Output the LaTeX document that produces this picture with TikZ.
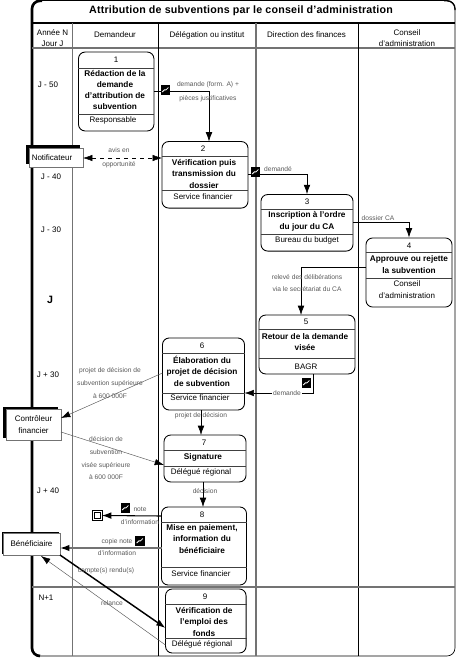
\documentclass[tikz,border=0pt]{standalone}
\usepackage{fontspec}
\setmainfont{Liberation Sans}
\usetikzlibrary{arrows.meta,shadows}
\definecolor{labelgrey}{gray}{0.35}
\definecolor{rulegrey}{gray}{0.45}

\begin{document}
\begin{tikzpicture}[x=0.75pt,y=-0.75pt]
\tikzset{stepbox/.style = {shape=rectangle,draw,rounded corners=5pt,line width=0.65pt,inner sep=0pt}}
\tikzset{steptext/.style = {align=center,inner sep=0pt,font=\fontsize{6.2}{8.6}\selectfont\bfseries}}
\tikzset{plaintext/.style = {align=center,inner sep=0pt,font=\fontsize{6}{8.3}\selectfont}}
\tikzset{headtext/.style = {align=center,inner sep=0pt,font=\fontsize{6}{8}\selectfont}}
\tikzset{flowtext/.style = {align=center,inner sep=0pt,text=labelgrey,font=\fontsize{5}{9.5}\selectfont}}
\tikzset{actor/.style = {shape=rectangle,draw=rulegrey,line width=0.4pt,fill=white,inner sep=0pt,align=center,font=\fontsize{6}{8.6}\selectfont}}
\tikzset{divider/.style = {line width=0.6pt,black!75}}
\tikzset{edge/.style = {->,> = {Latex[length=7pt,width=5pt]},line width=0.5pt}}
\tikzset{thinedge/.style = {->,> = {Latex[length=7pt,width=4.8pt,color=black]},line width=0.35pt,black!65}}
\tikzset{msgicon/.style = {shape=rectangle,fill=black,minimum size=7pt,inner sep=0pt,
		path picture={\draw[white,line width=0.6pt] ([shift={(-2.5pt,-1.5pt)}]path picture bounding box.center) -- ++(1.7pt,1.6pt) -- ++(1.2pt,0pt) -- ++(1.8pt,1.8pt);}}}
\useasboundingbox (0,0) rectangle (468,668);

% frame and columns
\draw[line width=0.5pt,rounded corners=6pt] (32,656) -- (32,0.5) -- (455,0.5) -- (455,656) -- cycle;
\draw[line width=2pt,rounded corners=6pt] (40,656) -- (32,656) -- (32,0.8) -- (42,0.8);
\draw[line width=1pt,rounded corners=6pt] (444,0.8) -- (455,0.8) -- (455,10);
\draw[line width=1.6pt] (32,23) -- (455,23);
\draw[line width=0.8pt,rulegrey] (32,48) -- (455,48);
\draw[line width=0.6pt,rulegrey] (72.5,23) -- (72.5,656);
\draw[line width=0.6pt] (158,23) -- (158,656);
\draw[line width=1pt,rulegrey] (256,23) -- (256,656);
\draw[line width=0.6pt] (358.5,23) -- (358.5,656);
\draw[line width=0.9pt,rulegrey] (32,587) -- (455,587);

% headers
\node[inner sep=0pt,font=\fontsize{8}{9}\selectfont\bfseries] (title) at (241,11) {\addfontfeature{LetterSpace=2}Attribution de subventions par le conseil d'administration};
\node[headtext] (year) at (52.5,38) {Année N\\Jour J};
\node[headtext] (hdem) at (115,35) {Demandeur};
\node[headtext] (hdel) at (207,35) {Délégation ou institut};
\node[headtext] (hdir) at (306.5,35) {Direction des finances};
\node[headtext] (hcon) at (407,38) {Conseil\\d'administration};

% dates
\node[headtext] (t1) at (48,85) {J - 50};
\node[headtext] (t2) at (51,177) {J - 40};
\node[headtext] (t3) at (51,230) {J - 30};
\node[inner sep=0pt,font=\fontsize{8}{9}\selectfont\bfseries] (t4) at (50,300) {J};
\node[headtext] (t5) at (48,375) {J + 30};
\node[headtext] (t6) at (48,491) {J + 40};
\node[headtext] (t7) at (46,598) {N+1};

% steps
\node[stepbox,minimum width=56.6pt,minimum height=59.2pt] (a) at (116.2,91.5) {};
\node[stepbox,minimum width=64.5pt,minimum height=49.9pt] (b) at (205,174.8) {};
\node[stepbox,minimum width=69pt,minimum height=42.4pt] (c) at (307,222.8) {};
\node[stepbox,minimum width=64.5pt,minimum height=51.8pt] (d) at (409,272.5) {};
\node[stepbox,minimum width=72pt,minimum height=44.2pt] (e) at (307,344.5) {};
\node[stepbox,minimum width=61.5pt,minimum height=54pt] (f) at (203.5,374) {};
\node[stepbox,minimum width=61.5pt,minimum height=35.2pt] (g) at (205,458.5) {};
\node[stepbox,minimum width=63.8pt,minimum height=58.5pt] (h) at (204,546) {};
\node[stepbox,minimum width=60.4pt,minimum height=48pt] (i) at (205.8,621) {};

% step dividers
\draw[divider] (a.west |- 0,68) -- (a.east |- 0,68);
\draw[divider] (a.west |- 0,114) -- (a.east |- 0,114);
\draw[divider] (b.west |- 0,156) -- (b.east |- 0,156);
\draw[divider] (b.west |- 0,190) -- (b.east |- 0,190);
\draw[divider] (c.west |- 0,209) -- (c.east |- 0,209);
\draw[divider] (c.west |- 0,234) -- (c.east |- 0,234);
\draw[divider] (d.west |- 0,252) -- (d.east |- 0,252);
\draw[divider] (d.west |- 0,278) -- (d.east |- 0,278);
\draw[divider] (e.west |- 0,329) -- (e.east |- 0,329);
\draw[divider] (e.west |- 0,358) -- (e.east |- 0,358);
\draw[divider] (f.west |- 0,353) -- (f.east |- 0,353);
\draw[divider] (f.west |- 0,393) -- (f.east |- 0,393);
\draw[divider] (g.west |- 0,450) -- (g.east |- 0,450);
\draw[divider] (g.west |- 0,466) -- (g.east |- 0,466);
\draw[divider] (h.west |- 0,522) -- (h.east |- 0,522);
\draw[divider] (h.west |- 0,567) -- (h.east |- 0,567);
\draw[divider] (i.west |- 0,604) -- (i.east |- 0,604);
\draw[divider] (i.west |- 0,638) -- (i.east |- 0,638);

% step texts
\node[plaintext] (a0) at (116,60) {1};
\node[steptext,font=\fontsize{6.2}{8.1}\selectfont\bfseries] (a1) at (115,90) {Rédaction de la\\demande\\d'attribution de\\subvention};
\node[plaintext] (a2) at (113,120) {Responsable};
\node[plaintext] (b0) at (203,149) {2};
\node[steptext] (b1) at (204,174) {Vérification puis\\transmission du\\dossier};
\node[plaintext] (b2) at (203,197) {Service financier};
\node[plaintext] (c0) at (307,202) {3};
\node[steptext] (c1) at (307,221.5) {Inscription à l'ordre\\du jour du CA};
\node[plaintext] (c2) at (307,240) {Bureau du budget};
\node[plaintext] (d0) at (409,246) {4};
\node[steptext] (d1) at (409,264.5) {Approuve ou rejette\\la subvention};
\node[plaintext] (d2) at (407,289.5) {Conseil\\[1.2pt]d'administration};
\node[plaintext] (e0) at (306,322) {5};
\node[steptext] (e1) at (305,342) {Retour de la demande\\visée};
\node[plaintext] (e2) at (306,367) {BAGR};
\node[plaintext] (f0) at (202,346) {6};
\node[steptext] (f1) at (202,371) {Élaboration du\\projet de décision\\de subvention};
\node[plaintext] (f2) at (200,398) {Service financier};
\node[plaintext] (g0) at (204,443) {7};
\node[steptext] (g1) at (203,457.5) {Signature};
\node[plaintext] (g2) at (201,472) {Délégué régional};
\node[plaintext] (h0) at (202,515) {8};
\node[steptext] (h1) at (202,539) {Mise en paiement,\\information du\\bénéficiaire};
\node[plaintext] (h2) at (201,574) {Service financier};
\node[plaintext] (i0) at (205,597) {9};
\node[steptext] (i1) at (204,622) {Vérification de\\l'emploi des\\fonds};
\node[plaintext] (i2) at (202,644) {Délégué régional};

% actors
\node[actor,minimum width=40.5pt,minimum height=14.2pt,general shadow={fill=black,shadow xshift=-2pt,shadow yshift=2pt}] (notif) at (56,157.5) {Notificateur\hspace{6pt}};
\node[actor,minimum width=41.2pt,minimum height=23.2pt,general shadow={fill=black,shadow xshift=-2.2pt,shadow yshift=1.6pt}] (ctrl) at (33.5,424.5) {Contrôleur\hspace{3pt}\\financier\hspace{3pt}};
\node[actor,minimum width=42.8pt,minimum height=16.5pt,general shadow={fill=black,shadow xshift=-1pt,shadow yshift=0.7pt}] (benef) at (31.5,544) {Bénéficiaire};

% free ends of the connectors
\coordinate (bin) at (209,141.5);
\coordinate (eout) at (366,267);
\coordinate (ein) at (301,315);
\coordinate (eleft) at (313,374);
\coordinate (fin) at (244.5,393);
\coordinate (fout) at (162.5,373);
\coordinate (ctrlin) at (61,418);
\coordinate (ctrlout) at (61,432);
\coordinate (gin) at (164,465);
\coordinate (fbot) at (201,410);
\coordinate (gtop) at (201,435);
\coordinate (gbot) at (203,482);
\coordinate (htop) at (203,507);
\coordinate (hout) at (161.5,516);
\coordinate (hcopy) at (161.5,548);
\coordinate (benefin) at (60,548);
\coordinate (benefout) at (60,555);
\coordinate (iin) at (165.5,628);
\coordinate (iout) at (165.5,645);
\coordinate (benefback) at (41,556);
\coordinate (notifr) at (83,158);
\coordinate (bleft) at (162,158);

% edges
\draw[edge] (a.east) -| (bin);
\draw[thinedge,<->,dashed,black] (notifr) to (bleft);
\draw[edge] (b.east) -| (c.north);
\draw[edge] (c.east) -| (d.north);
\draw[edge] (eout) -| (ein);
\draw[thinedge,black] (eleft) |- (fin);
\draw[thinedge] (fout) to (ctrlin);
\draw[edge] (fbot) to (gtop);
\draw[thinedge] (ctrlout) to (gin);
\draw[edge] (gbot) to (htop);
\draw[thinedge,rulegrey,line width=1pt] (hcopy) to (benefin);
\draw[edge,line width=1.1pt] (benefout) to (iin);
\draw[thinedge] (iout) to (benefback);

% white icon end
\node[shape=rectangle,draw,double,double distance=1pt,line width=0.7pt,minimum size=6pt,inner sep=0pt] (inote) at (97.5,515.5) {};
\draw[edge,line width=0.8pt] (hout) to (inote.east);

% message icons
\node[msgicon] (m1) at (165.5,90) {};
\node[msgicon] (m2) at (255.5,172) {};
\node[msgicon] (m3) at (306.5,383) {};
\node[msgicon] (m4) at (125.5,508) {};
\node[msgicon] (m5) at (140,541) {};

% connector labels
\node[flowtext] (l1) at (208,92) {demande (form. A) +\\[1pt]pièces justificatives};
\node[flowtext] (l2) at (119,158) {avis en\\[1pt]opportunité};
\node[flowtext] (l3) at (278,169) {demandé};
\node[flowtext] (l4) at (378,218) {dossier CA};
\node[flowtext] (l5) at (307,283) {relevé des délibérations\\via le secrétariat du CA};
\node[flowtext,fill=white,inner sep=1pt] (l6) at (287,393) {demande};
\node[flowtext] (l7) at (110,383) {projet de décision de\\subvention supérieure\\à 600 000F};
\node[flowtext] (l8) at (201,416) {projet de décision};
\node[flowtext] (l9) at (106,458.5) {décision de\\subvention\\visée supérieure\\à 600 000F};
\node[flowtext] (l10) at (205,491) {décision};
\node[flowtext] (l11) at (140,516) {note\\d'information};
\node[flowtext] (l12) at (117,547) {copie note\\d'information};
\node[flowtext] (l13) at (106,571) {compte(s) rendu(s)};
\node[flowtext] (l14) at (112,603) {relance};
\end{tikzpicture}
\end{document}
